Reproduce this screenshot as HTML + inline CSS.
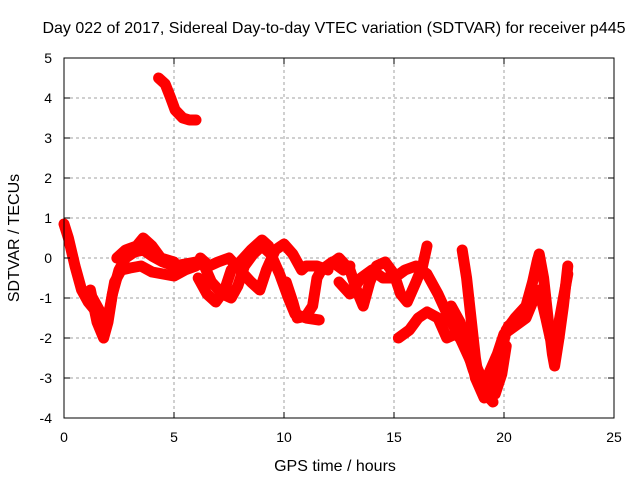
<!DOCTYPE html>
<html><head><meta charset="utf-8"><style>
body{margin:0;background:#fff;}
svg{display:block;font-family:"Liberation Sans",sans-serif;}
</style></head><body>
<svg id="chart" width="640" height="480">
<text x="334" y="33" text-anchor="middle" font-size="16">Day 022 of 2017, Sidereal Day-to-day VTEC variation (SDTVAR) for receiver p445</text>
<text transform="translate(19,238) rotate(-90)" text-anchor="middle" font-size="16">SDTVAR / TECUs</text>
<text x="335" y="471" text-anchor="middle" font-size="16">GPS time / hours</text>
<g id="grid"></g><g id="series"></g><g id="axes"></g>
</svg>
<script>
const xTicks=[0,5,10,15,20,25];
const yTicks=[5,4,3,2,1,0,-1,-2,-3,-4];
const traceA=[[0,0.85],[0.2,0.5],[0.5,-0.2],[0.8,-0.8],[1.1,-1.1],[1.4,-1.3]];
const traceB=[[1.2,-0.8],[1.5,-1.6],[1.8,-2.0],[2.0,-1.6],[2.2,-0.9],[2.5,-0.3],[2.8,0.0],[3.2,0.15],[3.6,0.2],[4.0,0.05],[4.5,-0.1],[5.0,-0.2],[5.5,-0.15],[6.0,-0.1]];
const traceC=[[1.3,-1.0],[1.6,-1.3],[1.9,-1.7],[2.1,-1.2],[2.3,-0.6],[2.6,-0.3],[3.0,-0.25],[3.5,-0.2],[4.0,-0.35],[4.5,-0.4],[5.0,-0.45],[5.5,-0.3],[6.0,-0.2]];
const traceD=[[2.4,0.0],[2.8,0.2],[3.3,0.3],[3.6,0.5],[4.0,0.3],[4.4,0.0],[5.0,-0.1]];
const traceE=[[4.3,4.5],[4.6,4.35],[4.85,4.0],[5.05,3.7],[5.4,3.5],[5.7,3.45],[6.0,3.45]];
const traceF=[[6.1,-0.5],[6.5,-0.9],[6.9,-1.1],[7.3,-0.8],[7.6,-0.3],[8.0,-0.1],[8.5,0.2],[9.0,0.45],[9.3,0.3]];
const traceG=[[6.3,-0.1],[6.7,-0.6],[7.2,-0.9],[7.6,-1.0],[7.9,-0.7],[8.2,-0.2],[8.6,0.1],[9.0,0.3],[9.4,0.1],[9.8,-0.4],[10.2,-1.0],[10.5,-1.4],[11.0,-1.5],[11.6,-1.55]];
const traceH=[[6.2,0.0],[6.6,-0.2],[7.0,-0.1],[7.5,0.0],[8.0,-0.3],[8.5,-0.6],[8.9,-0.8],[9.2,-0.3],[9.6,0.2],[10.0,0.35],[10.4,0.1],[10.8,-0.3],[11.0,-0.2],[11.5,-0.2],[12.0,-0.3]];
const traceI=[[10.1,-0.6],[10.4,-1.1],[10.6,-1.5],[11.0,-1.45],[11.3,-1.2],[11.5,-0.5],[11.7,-0.3],[12.2,-0.1],[12.7,-0.3],[13.0,-0.2]];
const traceJ=[[12,-0.2],[12.5,0.0],[13.0,-0.3],[13.3,-0.8],[13.6,-1.2],[13.9,-0.6],[14.2,-0.2],[14.6,-0.1],[15.0,-0.4],[15.3,-0.9],[15.6,-1.1],[16.0,-0.6],[16.3,-0.2],[16.5,0.3]];
const traceK=[[12.5,-0.6],[13.0,-0.9],[13.5,-0.5],[14.0,-0.3],[14.5,-0.5],[15.0,-0.5],[15.5,-0.3],[16.0,-0.2],[16.5,-0.4],[17.0,-0.9],[17.5,-1.5],[18.0,-2.0],[18.5,-2.6],[19.0,-3.3],[19.3,-3.5]];
const traceL=[[15.2,-2.0],[15.7,-1.8],[16.1,-1.5],[16.5,-1.35],[17.0,-1.5],[17.4,-2.0],[17.8,-1.9],[18.2,-2.1],[18.6,-2.8],[19.0,-3.3],[19.5,-3.6]];
const traceM=[[18.1,0.2],[18.3,-0.5],[18.5,-1.5],[18.7,-2.5],[18.9,-3.2]];
const traceN=[[17.6,-1.2],[18.0,-1.6],[18.4,-2.2],[18.7,-3.0],[19.1,-3.5],[19.6,-3.4],[19.9,-2.9],[20.1,-2.2]];
const traceQ=[[18.5,-2.4],[18.9,-2.9],[19.2,-3.0],[19.5,-2.9],[19.8,-2.3],[20.2,-1.7]];
const traceO=[[19.0,-3.2],[19.5,-3.3],[19.8,-2.6],[20.1,-1.8],[20.5,-1.5],[21.0,-1.2],[21.3,-0.6],[21.5,-0.1],[21.6,0.1],[21.8,-0.5],[22.0,-1.5],[22.2,-2.4],[22.3,-2.7],[22.5,-2.0],[22.7,-1.2],[22.9,-0.2]];
const traceP=[[19.3,-2.9],[19.7,-2.4],[20.0,-1.9],[20.5,-1.7],[21.0,-1.5],[21.3,-1.1],[21.6,-0.8],[21.9,-1.5],[22.1,-2.0],[22.4,-1.9],[22.7,-1.0],[22.9,-0.4]];
const traces=[traceA,traceB,traceC,traceD,traceE,traceF,traceG,traceH,traceI,traceJ,traceK,traceL,traceM,traceN,traceQ,traceO,traceP];

const L=64,R=614,T=58,B=418;
const xs=h=>L+(h-0)/(25-0)*(R-L);
const ys=v=>B-(v+4)/(5+4)*(B-T);
const NS='http://www.w3.org/2000/svg';
function mk(tag,attrs,parent){const e=document.createElementNS(NS,tag);for(const k in attrs)e.setAttribute(k,attrs[k]);parent.appendChild(e);return e;}
const grid=document.getElementById('grid'),axes=document.getElementById('axes'),ser=document.getElementById('series');
xTicks.forEach(t=>{
  const x=xs(t);
  if(t>0&&t<25){const g=mk('line',{x1:x,x2:x,y1:T,y2:B,stroke:'#a0a0a0','stroke-dasharray':'3,3'},grid);
  
  }
  mk('line',{x1:x,x2:x,y1:B,y2:B-6,stroke:'#000'},axes);
  mk('line',{x1:x,x2:x,y1:T,y2:T+6,stroke:'#000'},axes);
  const lb=mk('text',{x:x,y:B+24,'text-anchor':'middle','font-size':14},axes);lb.textContent=t;
  
  
});
yTicks.forEach(t=>{
  const y=ys(t);
  if(t>-4&&t<5){const g=mk('line',{x1:L,x2:R,y1:y,y2:y,stroke:'#a0a0a0','stroke-dasharray':'3,3'},grid);
  
  }
  mk('line',{x1:L,x2:L+6,y1:y,y2:y,stroke:'#000'},axes);
  mk('line',{x1:R,x2:R-6,y1:y,y2:y,stroke:'#000'},axes);
  const lb=mk('text',{x:L-12,y:y+5,'text-anchor':'end','font-size':14},axes);lb.textContent=t;
  
  
});
const fr=mk('rect',{x:L,y:T,width:R-L,height:B-T,fill:'none',stroke:'#000'},axes);


traces.forEach(tr=>{
  const p=mk('polyline',{points:tr.map(d=>xs(d[0])+','+ys(d[1])).join(' '),fill:'none',stroke:'#ff0000','stroke-width':11,'stroke-linejoin':'round','stroke-linecap':'round'},ser);
  
  
});
</script>
</body></html>
